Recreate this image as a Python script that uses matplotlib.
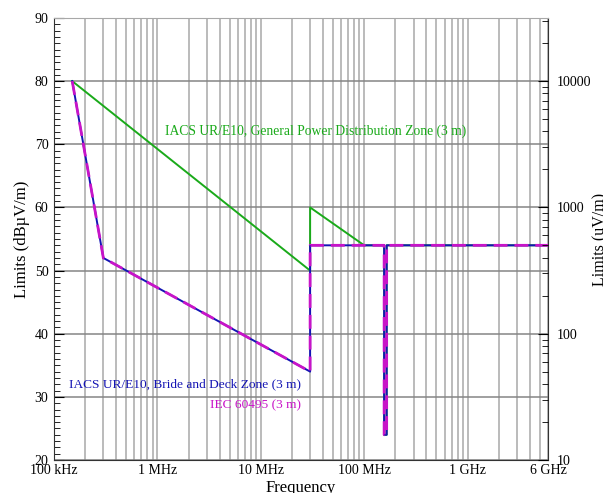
import numpy as np
import matplotlib
matplotlib.use('Agg')
import matplotlib.pyplot as plt
from matplotlib.ticker import FixedLocator, NullFormatter, LogLocator

plt.rcParams['font.family'] = ['Liberation Serif', 'DejaVu Serif']

# frequencies in MHz, levels in dBuV/m
f_general = [0.15, 30, 30, 100, 156, 156, 165, 165, 6000]
l_general = [80, 50, 60, 54, 54, 24, 24, 54, 54]

f_bridge = [0.15, 0.3, 30, 30, 156, 156, 165, 165, 6000]
l_bridge = [80, 52, 34, 54, 54, 24, 24, 54, 54]

f_iec = [0.15, 0.3, 30, 30, 156, 156, 165, 165, 6000]
l_iec = [80, 52, 34, 54, 54, 24, 24, 54, 54]

xticks = [0.1, 1, 10, 100, 1000, 6000]
xlabels = ['100 kHz', '1 MHz', '10 MHz', '100 MHz', '1 GHz', '6 GHz']
yticks = [20, 30, 40, 50, 60, 70, 80, 90]
rticks = [10, 100, 1000, 10000]

green = '#1aaa1a'
blue = '#1414b4'
magenta = '#c814c8'
gridc = '#a8a8a8'

fig = plt.figure(figsize=(6.03, 4.93), dpi=100)
ax = fig.add_axes([0.0896, 0.0669, 0.8192, 0.8966])
ax.set_xscale('log')
ax.set_xlim(0.1, 6000)
ax.set_ylim(20, 90)

# grid: every minor log position on x, 10 dB on y
minors = []
for d in [0.1, 1, 10, 100, 1000]:
    for k in range(1, 10):
        v = d * k
        if v <= 6000:
            minors.append(v)
for v in minors:
    ax.axvline(v, color=gridc, lw=1.1, zorder=0)
for v in yticks:
    ax.axhline(v, color='#858585', lw=1.1, zorder=0)

ax.plot(f_general, l_general, color=green, lw=1.4, zorder=3)
ax.plot(f_bridge, l_bridge, color=blue, lw=1.4, zorder=4)
ax.plot(f_iec, l_iec, color=magenta, lw=2.0, ls=(0, (5, 2.5)), zorder=5)

ax.text(34, 72.1, 'IACS UR/E10, General Power Distribution Zone (3 m)', color=green,
        fontsize=9.8, ha='center', va='center')
ax.text(24.5, 32.0, 'IACS UR/E10, Bride and Deck Zone (3 m)', color=blue,
        fontsize=9.6, ha='right', va='center')
ax.text(24.5, 28.7, 'IEC 60495 (3 m)', color=magenta,
        fontsize=9.6, ha='right', va='center')

ax.xaxis.set_major_locator(FixedLocator(xticks))
ax.set_xticklabels(xlabels)
ax.xaxis.set_minor_formatter(NullFormatter())
ax.tick_params(axis='x', which='both', length=0, labelsize=10, pad=3)
ax.set_yticks(yticks)
ax.yaxis.set_minor_locator(FixedLocator(np.arange(20, 91, 1)))
ax.tick_params(axis='y', which='major', direction='in', length=7, labelsize=10, pad=4)
ax.tick_params(axis='y', which='minor', direction='in', length=4)

ax.set_xlabel('Frequency', fontsize=12, labelpad=2)
ax.set_ylabel('Limits (dBµV/m)', fontsize=12, labelpad=3)

for s in ['left', 'bottom', 'right']:
    ax.spines[s].set_color('#333333')
ax.spines['top'].set_color(gridc)

ax2 = ax.twinx()
ax2.set_yscale('log')
ax2.set_ylim(10 ** (20 / 20), 10 ** (90 / 20))
ax2.yaxis.set_major_locator(FixedLocator(rticks))
ax2.set_yticklabels([str(v) for v in rticks])
ax2.yaxis.set_minor_locator(LogLocator(base=10, subs=np.arange(2, 10)))
ax2.yaxis.set_minor_formatter(NullFormatter())
ax2.tick_params(axis='y', which='major', direction='in', length=7, labelsize=10, pad=6)
ax2.tick_params(axis='y', which='minor', direction='in', length=4)
ax2.set_ylabel('Limits (uV/m)', fontsize=11.5, labelpad=1)
for s in ax2.spines.values():
    s.set_visible(False)

fig.savefig('out.png', dpi=100)
